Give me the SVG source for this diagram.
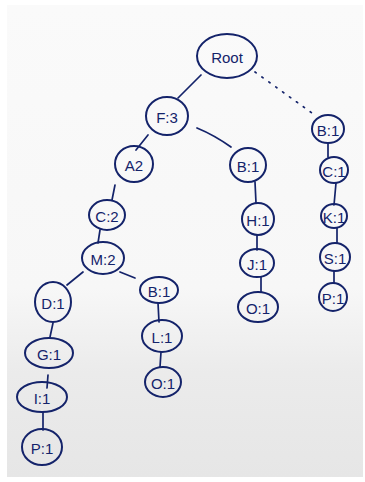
<svg xmlns="http://www.w3.org/2000/svg" width="365" height="482" viewBox="0 0 365 482">
<defs>
<linearGradient id="paper" x1="0" y1="0" x2="0" y2="1">
<stop offset="0" stop-color="#fafafa"/>
<stop offset="0.6" stop-color="#f7f7f7"/>
<stop offset="0.78" stop-color="#ebebeb"/>
<stop offset="1" stop-color="#e6e6e6"/>
</linearGradient>
<style>
.n ellipse{fill:none;stroke:#14236a;stroke-width:2}
.n text{font-family:"Liberation Sans","DejaVu Sans",sans-serif;font-size:15px;fill:#14236a;text-anchor:middle;dominant-baseline:central}
.c line,.c path{stroke:#14236a;stroke-width:1.7;fill:none;stroke-linecap:round}
.dot{stroke-dasharray:1.5 7}
</style>
</defs>
<rect width="365" height="482" fill="#ffffff"/>
<rect x="7" y="5" width="356" height="472" fill="url(#paper)"/>
<g class="c">
<line x1="201" y1="75" x2="178" y2="98"/>
<line class="dot" x1="255" y1="72" x2="312" y2="113"/>
<path d="M197,128 Q214,135 231,147"/>
<line x1="148" y1="135" x2="136" y2="150"/>
<line x1="115" y1="185" x2="112" y2="200"/>
<line x1="100" y1="230" x2="98" y2="243"/>
<line x1="83" y1="272" x2="67" y2="285"/>
<line x1="120" y1="272" x2="135" y2="278"/>
<line x1="53" y1="323" x2="50" y2="337"/>
<line x1="48" y1="375" x2="47" y2="388"/>
<line x1="43" y1="412" x2="43" y2="430"/>
<line x1="158" y1="303" x2="159" y2="322"/>
<line x1="161" y1="352" x2="160" y2="367"/>
<line x1="255" y1="182" x2="256" y2="203"/>
<line x1="257" y1="235" x2="257" y2="250"/>
<line x1="261" y1="277" x2="261" y2="292"/>
<line x1="328" y1="143" x2="328" y2="157"/>
<line x1="336" y1="183" x2="334" y2="205"/>
<line x1="337" y1="228" x2="337" y2="243"/>
<line x1="334" y1="271" x2="334" y2="283"/>
</g>
<g id="root" class="n"><ellipse cx="227" cy="56" rx="30" ry="22"/><text x="227" y="57">Root</text></g>
<g id="F3" class="n"><ellipse cx="167" cy="116" rx="21" ry="19"/><text x="167" y="117">F:3</text></g>
<g id="A2" class="n"><ellipse cx="134" cy="164" rx="19" ry="18"/><text x="134" y="165">A2</text></g>
<g id="C2" class="n"><ellipse cx="107" cy="215" rx="18" ry="15"/><text x="107" y="216">C:2</text></g>
<g id="M2" class="n"><ellipse cx="103" cy="258" rx="21" ry="16"/><text x="103" y="259">M:2</text></g>
<g id="D1" class="n"><ellipse cx="53" cy="302" rx="18" ry="20"/><text x="53" y="303">D:1</text></g>
<g id="G1" class="n"><ellipse cx="49" cy="353" rx="24" ry="15"/><text x="49" y="354">G:1</text></g>
<g id="I1" class="n"><ellipse cx="42" cy="397" rx="25" ry="15"/><text x="42" y="398">I:1</text></g>
<g id="P1a" class="n"><ellipse cx="42" cy="447" rx="20" ry="18"/><text x="42" y="448">P:1</text></g>
<g id="B1a" class="n"><ellipse cx="159" cy="290" rx="19" ry="13"/><text x="159" y="291">B:1</text></g>
<g id="L1" class="n"><ellipse cx="162" cy="336" rx="20" ry="16"/><text x="162" y="337">L:1</text></g>
<g id="O1a" class="n"><ellipse cx="163" cy="382" rx="18" ry="15"/><text x="163" y="383">O:1</text></g>
<g id="B1b" class="n"><ellipse cx="248" cy="165" rx="18" ry="17"/><text x="248" y="166">B:1</text></g>
<g id="H1" class="n"><ellipse cx="258" cy="219" rx="16" ry="16"/><text x="258" y="220">H:1</text></g>
<g id="J1" class="n"><ellipse cx="257" cy="263" rx="17" ry="14"/><text x="257" y="264">J:1</text></g>
<g id="O1b" class="n"><ellipse cx="258" cy="307" rx="20" ry="15"/><text x="258" y="308">O:1</text></g>
<g id="B1c" class="n"><ellipse cx="328" cy="129" rx="16" ry="14"/><text x="328" y="130">B:1</text></g>
<g id="C1" class="n"><ellipse cx="334" cy="170" rx="14" ry="13"/><text x="334" y="171">C:1</text></g>
<g id="K1" class="n"><ellipse cx="334" cy="216" rx="13" ry="12"/><text x="334" y="217">K:1</text></g>
<g id="S1" class="n"><ellipse cx="335" cy="257" rx="15" ry="14"/><text x="335" y="258">S:1</text></g>
<g id="P1b" class="n"><ellipse cx="333" cy="297" rx="14" ry="14"/><text x="333" y="298">P:1</text></g>
</svg>
